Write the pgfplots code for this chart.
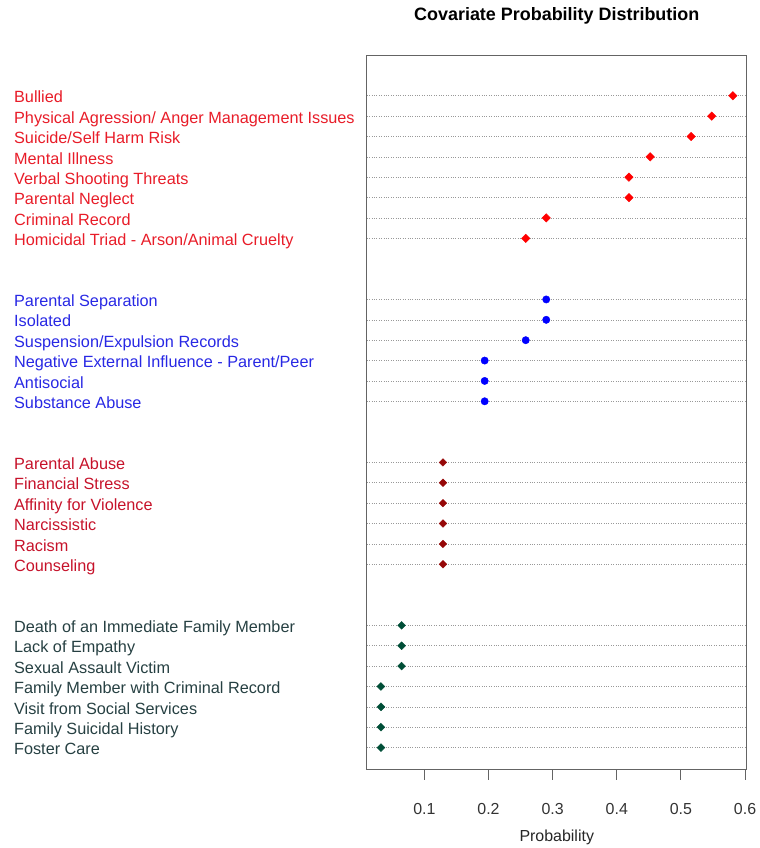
\documentclass[border=0pt]{standalone}
\usepackage{pgfplots}
\pgfplotsset{compat=1.18}
\usepackage{fontspec}
\setmainfont{Liberation Sans}

\definecolor{grpA}{RGB}{255,0,0}
\definecolor{grpAtxt}{RGB}{232,28,40}
\definecolor{grpB}{RGB}{0,0,255}
\definecolor{grpBtxt}{RGB}{40,40,228}
\definecolor{grpC}{RGB}{150,8,8}
\definecolor{grpCtxt}{RGB}{198,18,42}
\definecolor{grpD}{RGB}{0,78,55}
\definecolor{grpDtxt}{RGB}{38,64,66}
\definecolor{frame}{RGB}{100,100,100}

\begin{document}
\begin{tikzpicture}
\begin{axis}[
  at={(0pt,0pt)}, anchor=south west,
  scale only axis, width=381pt, height=716pt,
  xmin=0.0103, xmax=0.6025, ymin=-0.08, ymax=34.96,
  axis line style={frame, line width=0.8pt},
  xtick={0.1,0.2,0.3,0.4,0.5,0.6},
  xtick pos=bottom, tick align=outside, major tick length=10pt,
  x tick style={frame, line width=0.9pt},
  /pgf/number format/assume math mode=true,
  /pgf/number format/fixed,
  xticklabel style={font=\fontsize{16}{19}\selectfont, text=black!80, anchor=base, yshift=-35pt},
  ytick={1,2,3,4,5,6,7,10,11,12,13,14,15,18,19,20,21,22,23,26,27,28,29,30,31,32,33},
  y tick style={draw=none},
  yticklabels={
    \textcolor{grpDtxt}{Foster Care},
    \textcolor{grpDtxt}{Family Suicidal History},
    \textcolor{grpDtxt}{Visit from Social Services},
    \textcolor{grpDtxt}{Family Member with Criminal Record},
    \textcolor{grpDtxt}{Sexual Assault Victim},
    \textcolor{grpDtxt}{Lack of Empathy},
    \textcolor{grpDtxt}{Death of an Immediate Family Member},
    \textcolor{grpCtxt}{Counseling},
    \textcolor{grpCtxt}{Racism},
    \textcolor{grpCtxt}{Narcissistic},
    \textcolor{grpCtxt}{Affinity for Violence},
    \textcolor{grpCtxt}{Financial Stress},
    \textcolor{grpCtxt}{Parental Abuse},
    \textcolor{grpBtxt}{Substance Abuse},
    \textcolor{grpBtxt}{Antisocial},
    \textcolor{grpBtxt}{Negative External Influence - Parent/Peer},
    \textcolor{grpBtxt}{Suspension/Expulsion Records},
    \textcolor{grpBtxt}{Isolated},
    \textcolor{grpBtxt}{Parental Separation},
    \textcolor{grpAtxt}{Homicidal Triad - Arson/Animal Cruelty},
    \textcolor{grpAtxt}{Criminal Record},
    \textcolor{grpAtxt}{Parental Neglect},
    \textcolor{grpAtxt}{Verbal Shooting Threats},
    \textcolor{grpAtxt}{Mental Illness},
    \textcolor{grpAtxt}{Suicide/Self Harm Risk},
    \textcolor{grpAtxt}{Physical Agression/ Anger Management Issues},
    \textcolor{grpAtxt}{Bullied}},
  yticklabel style={font=\fontsize{16.3}{19}\selectfont, anchor=west, inner sep=0pt,
    text height=11.4pt, text depth=0pt, xshift=-344pt, yshift=-1.5pt},
  ymajorgrids, grid style={black!40, dotted, line width=0.6pt},
  title={\bfseries Covariate Probability Distribution},
  title style={font=\fontsize{18}{21}\selectfont, at={(0.5,1)}, anchor=base, yshift=29pt},
  xlabel={Probability},
  xlabel style={font=\fontsize{16}{19}\selectfont, text=black!85, at={(axis description cs:0.5,0)}, anchor=base, yshift=-72pt},
  clip=false,
]
% first group
\addplot[only marks, mark=square*, mark size=3.0pt, mark options={rotate=45, draw=grpA, fill=grpA}]
  coordinates {(0.581,33) (0.548,32) (0.516,31) (0.452,30) (0.419,29) (0.419,28) (0.290,27) (0.258,26)};
% second group
\addplot[only marks, mark=*, mark size=3.7pt, mark options={draw=grpB, fill=grpB}]
  coordinates {(0.290,23) (0.290,22) (0.258,21) (0.194,20) (0.194,19) (0.194,18)};
% third group
\addplot[only marks, mark=square*, mark size=2.7pt, mark options={rotate=45, draw=grpC, fill=grpC}]
  coordinates {(0.129,15) (0.129,14) (0.129,13) (0.129,12) (0.129,11) (0.129,10)};
% fourth group
\addplot[only marks, mark=square*, mark size=2.8pt, mark options={rotate=45, draw=grpD, fill=grpD}]
  coordinates {(0.0645,7) (0.0645,6) (0.0645,5) (0.0323,4) (0.0323,3) (0.0323,2) (0.0323,1)};
\end{axis}
\useasboundingbox (-368pt,-76pt) rectangle (391pt,772pt);
\end{tikzpicture}
\end{document}
